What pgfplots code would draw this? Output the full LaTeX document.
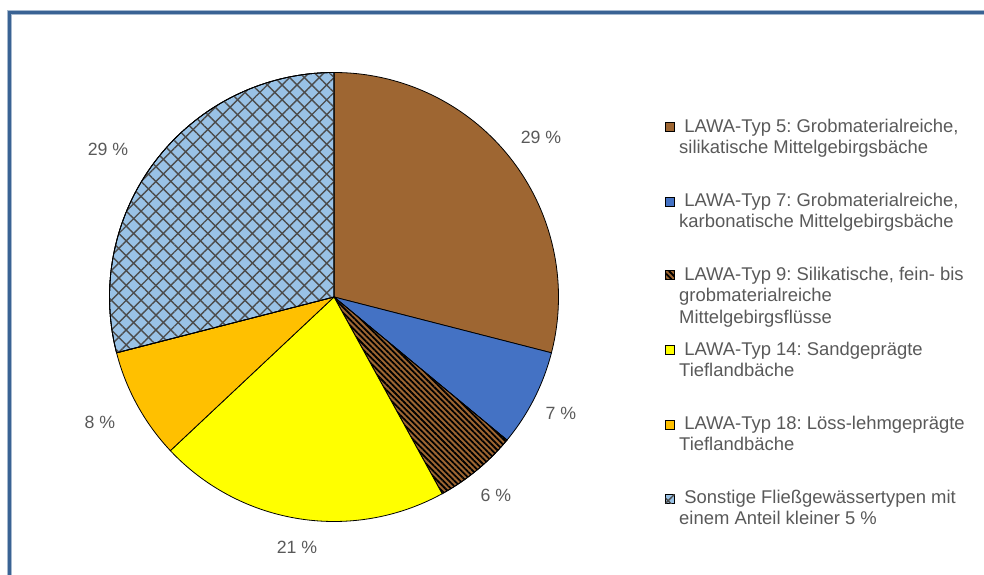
\documentclass[border=0pt]{standalone}
\usepackage{pgfplots}
\pgfplotsset{compat=1.18}
\usepackage{fontspec}
\setmainfont{Liberation Sans}
\usetikzlibrary{patterns.meta}
\frenchspacing
\definecolor{frameblue}{RGB}{58,99,148}
\definecolor{cbrown}{RGB}{158,102,50}
\definecolor{cblue}{RGB}{68,114,196}
\definecolor{cyellow}{RGB}{255,255,0}
\definecolor{corange}{RGB}{255,192,0}
\definecolor{clight}{RGB}{153,194,230}
\definecolor{tgrey}{RGB}{89,89,89}
% shares in percent, clockwise from 12 o'clock
\def\vA{29}\def\vB{7}\def\vC{6}\def\vD{21}\def\vE{8}\def\vF{29}
\pgfmathsetmacro\aA{90}
\pgfmathsetmacro\aB{\aA-3.6*\vA}
\pgfmathsetmacro\aC{\aB-3.6*\vB}
\pgfmathsetmacro\aD{\aC-3.6*\vC}
\pgfmathsetmacro\aE{\aD-3.6*\vD}
\pgfmathsetmacro\aF{\aE-3.6*\vE}
\pgfmathsetmacro\aG{\aF-3.6*\vF}
\tikzset{
  stripes/.style={fill=cbrown, postaction={pattern={Lines[angle=-45,distance=4bp,line width=1.8bp]}, pattern color=black}},
  xhatch/.style={fill=clight, postaction={pattern={Lines[angle=45,distance=10.5bp,line width=1.4bp]}, pattern color=black!70},
                 postaction={pattern={Lines[angle=-45,distance=10.5bp,line width=1.4bp]}, pattern color=black!70}},
}
\begin{document}
\begin{tikzpicture}[x=1bp,y=1bp]
\useasboundingbox (0,0) rectangle (984,575);
\begin{axis}[at={(334bp,278bp)}, anchor=center, width=449bp, height=449bp,
  scale only axis, hide axis, xmin=-1, xmax=1, ymin=-1, ymax=1, clip=false]
\addplot[draw=black, line width=0.8bp, fill=cbrown, domain=\aB:\aA, samples=90, variable=\t] ({cos(\t)},{sin(\t)}) -- (0,0) -- cycle;
\addplot[draw=black, line width=0.8bp, fill=cblue, domain=\aC:\aB, samples=40, variable=\t] ({cos(\t)},{sin(\t)}) -- (0,0) -- cycle;
\addplot[draw=black, line width=0.8bp, stripes, domain=\aD:\aC, samples=40, variable=\t] ({cos(\t)},{sin(\t)}) -- (0,0) -- cycle;
\addplot[draw=black, line width=0.8bp, fill=cyellow, domain=\aE:\aD, samples=80, variable=\t] ({cos(\t)},{sin(\t)}) -- (0,0) -- cycle;
\addplot[draw=black, line width=0.8bp, fill=corange, domain=\aF:\aE, samples=40, variable=\t] ({cos(\t)},{sin(\t)}) -- (0,0) -- cycle;
\addplot[draw=black, line width=0.8bp, xhatch, domain=\aG:\aF, samples=90, variable=\t] ({cos(\t)},{sin(\t)}) -- (0,0) -- cycle;
\end{axis}
% frame
\draw[frameblue!45, line width=5bp] (9.5,-5) -- (9.5,562.5) -- (990,562.5);
\draw[frameblue, line width=3.4bp] (9.5,-5) -- (9.5,562.5) -- (990,562.5);
% percentage labels
\begin{scope}[every node/.style={text=tgrey, font=\fontsize{17.8}{20}\selectfont}]
\node at (541,438) {29 \%};
\node at (561,162) {7 \%};
\node at (496,80) {6 \%};
\node at (297,28) {21 \%};
\node at (100,153) {8 \%};
\node at (108,426) {29 \%};
\end{scope}
% legend
\begin{scope}[every node/.style={text=tgrey, font=\fontsize{18.5}{21}\selectfont, anchor=base west, inner sep=0pt}]
\filldraw[fill=cbrown, draw=black, line width=0.7bp] (665.5,443.5) rectangle ++(9,9);
\node at (679,442.3) {\ LAWA-Typ 5: Grobmaterialreiche,};
\node at (679,421.7) {silikatische Mittelgebirgsbäche};
\filldraw[fill=cblue, draw=black, line width=0.7bp] (665.5,369) rectangle ++(9,9);
\node at (679,368.3) {\ LAWA-Typ 7: Grobmaterialreiche,};
\node at (679,347.3) {karbonatische Mittelgebirgsbäche};
\filldraw[stripes, draw=black, line width=0.7bp] (665.5,295.5) rectangle ++(9,9);
\node at (679,294) {\ LAWA-Typ 9: Silikatische, fein- bis};
\node at (679,273) {grobmaterialreiche};
\node at (679,251) {Mittelgebirgsflüsse};
\filldraw[fill=cyellow, draw=black, line width=0.7bp] (665.5,220.2) rectangle ++(9,9);
\node at (679,219.3) {\ LAWA-Typ 14: Sandgeprägte};
\node at (679,198.3) {Tieflandbäche};
\filldraw[fill=corange, draw=black, line width=0.7bp] (665.5,145.8) rectangle ++(9,9);
\node at (679,145) {\ LAWA-Typ 18: Löss-lehmgeprägte};
\node at (679,124.3) {Tieflandbäche};
\filldraw[xhatch, draw=black, line width=0.7bp] (665.5,71.8) rectangle ++(9,9);
\node at (679,71) {\ Sonstige Fließgewässertypen mit};
\node at (679,50.7) {einem Anteil kleiner 5 \%};
\end{scope}
\end{tikzpicture}
\end{document}
